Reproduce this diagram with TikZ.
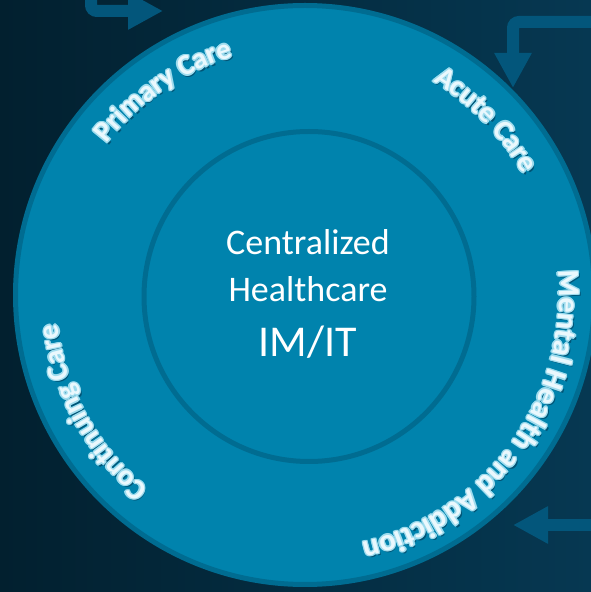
\documentclass[tikz,border=0pt]{standalone}
\usepackage{fontspec}
\setmainfont{Carlito}
\usetikzlibrary{decorations.text,arrows.meta}
\definecolor{bgdark}{HTML}{02202F}
\definecolor{bglight}{HTML}{063852}
\definecolor{ringfill}{HTML}{0083AD}
\definecolor{ringedge}{HTML}{006C91}
\definecolor{arrowblue}{HTML}{03567B}
\definecolor{glowc}{HTML}{9EDCEE}
\definecolor{shadowc}{HTML}{005577}
\definecolor{txtwhite}{HTML}{EAF8FD}
\def\ocx{305}
\def\ocy{297}
% #1 mid angle, #2 half span, #3 baseline radius, #4 font size, #5 text
\newcommand\arclabel[5]{%
  \foreach \sx/\sy/\col in {1.8/-2.4/shadowc, 1.4/0/glowc, -1.4/0/glowc, 0/1.4/glowc, 0/-1.4/glowc, 1/1/glowc, 1/-1/glowc, -1/1/glowc, -1/-1/glowc, 0/0/txtwhite}{
    \path[decorate, decoration={text along path, text align=center, text color=\col, text={|\bfseries\fontsize{#4}{#4}\selectfont|#5}}]
      (\ocx+\sx,\ocy+\sy) ++(#1+#2:#3pt) arc[start angle=#1+#2, end angle=#1-#2, radius=#3pt];
  }%
}
\tikzset{
  bigarrow/.style={draw=arrowblue, line width=12pt, -{Triangle[width=35pt,length=35pt]}, arrowblue},
  centertext/.style={anchor=base, inner sep=0pt, text=white}
}
\begin{document}
\begin{tikzpicture}[x=1pt,y=1pt]
\useasboundingbox (0,0) rectangle (591,592);
\clip (0,0) rectangle (591,592);
\shade[left color=bgdark, right color=bglight] (0,0) rectangle (591,592);
% arrows
\coordinate (a1s) at (91,610);
\coordinate (a1m) at (91,581);
\coordinate (a1e) at (163,581);
\coordinate (a2s) at (610,570);
\coordinate (a2m) at (513,570);
\coordinate (a2e) at (513,504);
\coordinate (a3s) at (610,67);
\coordinate (a3e) at (513,67);
\draw[bigarrow, rounded corners=6pt] (a1s) -- (a1m) -- (a1e);
\draw[bigarrow, rounded corners=6pt] (a2s) -- (a2m) -- (a2e);
\draw[bigarrow] (a3s) -- (a3e);
% circles
\coordinate (O) at (\ocx,\ocy);
\coordinate (I) at (309,295.5);
\draw[ringedge, line width=5pt, fill=ringfill] (O) circle[radius=289.5pt];
\draw[ringedge, line width=5pt] (I) circle[radius=165pt];
% centre text
\node[centertext, font=\fontsize{36}{44}\selectfont] (l1) at (308,337) {Centralized};
\node[centertext, font=\fontsize{36}{44}\selectfont] (l2) at (308,290) {Healthcare};
\node[centertext, font=\fontsize{44}{52}\selectfont] (l3) at (308,235) {IM/IT};
% curved labels
\arclabel{124.7}{45}{249}{29}{Primary Care}
\arclabel{44}{40}{249}{29}{Acute Care}
\arclabel{-35.8}{70}{254}{30.5}{Mental Health and Addiction}
\arclabel{208.8}{50}{249}{29}{Continuing Care}
\end{tikzpicture}
\end{document}
